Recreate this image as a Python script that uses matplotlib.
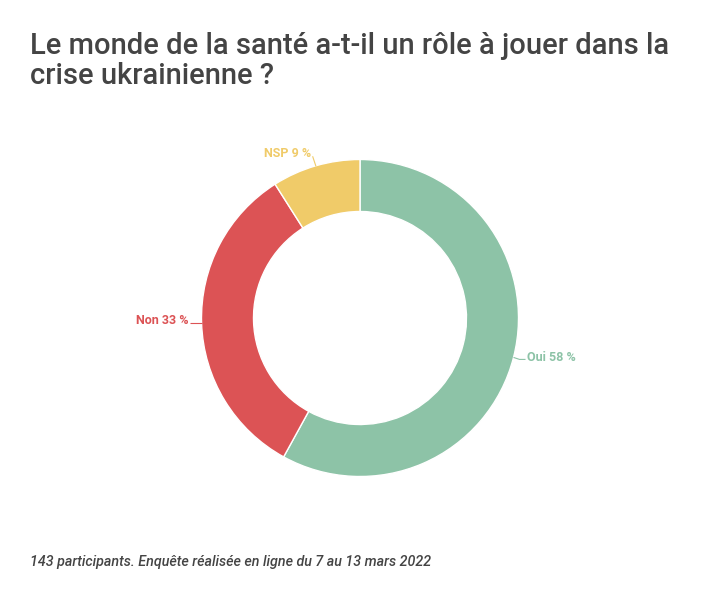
import numpy as np
import matplotlib
matplotlib.use("Agg")
import matplotlib.pyplot as plt

# Data
categories = ["Oui", "Non", "NSP"]
values = [58, 33, 9]
colors = ["#8dc3a7", "#dc5355", "#f0cb69"]
title_lines = ["Le monde de la santé a-t-il un rôle à jouer dans la",
               "crise ukrainienne ?"]
footnote = "143 participants. Enquête réalisée en ligne du 7 au 13 mars 2022"

plt.rcParams['font.family'] = ['Roboto', 'DejaVu Sans']

W, H = 720, 602
fig = plt.figure(figsize=(W / 100, H / 100), dpi=100)
ax = fig.add_axes([0, 0, 1, 1])
ax.set_xlim(0, W)
ax.set_ylim(0, H)
ax.axis('off')

cx, cy = 360, H - 318
R = 158.5
width = 52

wedges, _ = ax.pie(values, colors=colors, startangle=90, counterclock=False,
                   radius=R, center=(cx, cy),
                   wedgeprops=dict(width=width, edgecolor='white', linewidth=1))
ax.set_xlim(0, W)
ax.set_ylim(0, H)
ax.set_aspect('equal')

for w, cat, val, col in zip(wedges, categories, values, colors):
    ang = np.deg2rad((w.theta1 + w.theta2) / 2)
    x0 = cx + R * np.cos(ang)
    y0 = cy + R * np.sin(ang)
    label = f"{cat} {val} %"
    if abs(np.cos(ang)) > 0.5:
        sgn = 1 if np.cos(ang) > 0 else -1
        x1 = x0 + sgn * 6
        y1 = y0 - 2 if sgn > 0 else y0
        x2 = x1 + sgn * 6
        ax.plot([x0, x1, x2], [y0, y1, y1], color=col, lw=0.8,
                solid_capstyle='butt')
        ax.text(x2 + sgn * 1.5, y1 + 2, label, color=col, fontsize=9,
                fontweight='bold', ha='left' if sgn > 0 else 'right',
                va='center')
    else:
        x1 = x0 - 3
        y1 = y0 + 9
        ax.plot([x0, x1], [y0, y1], color=col, lw=0.8)
        ax.text(x1 - 2, y1 + 3, label, color=col, fontsize=9,
                fontweight='bold', ha='right', va='center')

title_color = "#444444"
fig.text(30 / W, 1 - 54.5 / H, title_lines[0], fontsize=21, color=title_color,
         fontweight='medium', ha='left', va='baseline')
fig.text(30 / W, 1 - 83.5 / H, title_lines[1], fontsize=21, color=title_color,
         fontweight='medium', ha='left', va='baseline')
fig.text(30 / W, 1 - 566 / H, footnote, fontsize=10.3, color=title_color,
         style='italic', fontweight='medium', ha='left', va='baseline')

fig.savefig("out.png", dpi=100, facecolor='white')
